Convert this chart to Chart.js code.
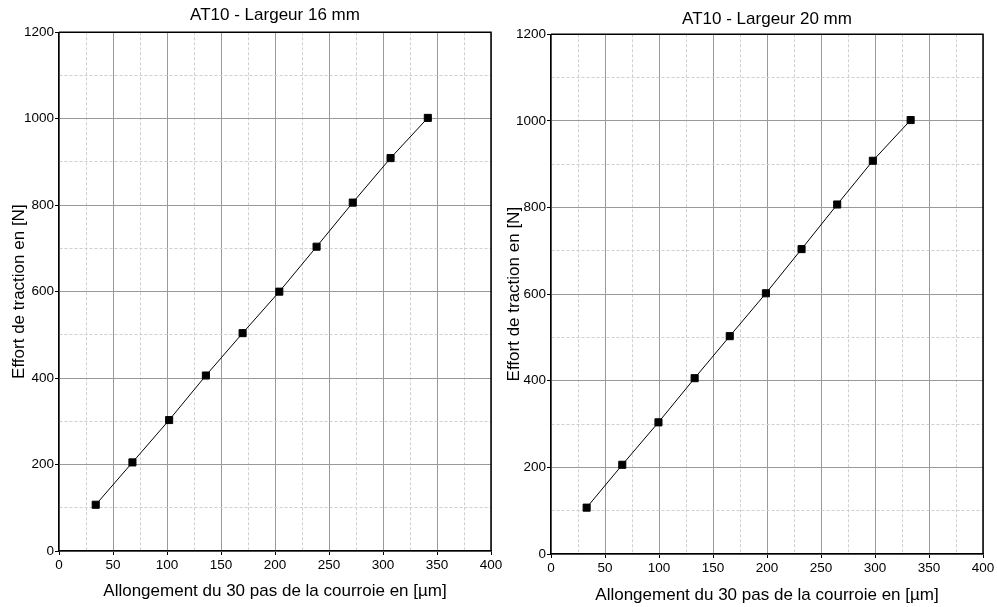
<!DOCTYPE html>
<html>
<head>
<meta charset="utf-8">
<script src="https://cdn.jsdelivr.net/npm/chart.js@4"></script>
<style>
  body { margin: 0; background: #fff; }
  #c1 { position: absolute; left: 0; top: 0; }
  #c2 { position: absolute; left: 497px; top: 0; }
</style>
</head>
<body>
<canvas id="c1" width="511" height="607"></canvas>
<canvas id="c2" width="500" height="607"></canvas>
<script>
// valeurs
const xLeft = [34, 68, 102, 136, 170, 204, 238.5, 272, 307, 341.5];
const yLeft = [107, 205, 303, 406, 504, 600, 704, 806, 909, 1002];
const xRight = [33, 66, 99.5, 133, 165.5, 199, 232, 265, 298, 333];
const yRight = [107, 206, 304, 406, 503, 602, 704, 807, 908, 1002];
const xTickLabels = [0, 50, 100, 150, 200, 250, 300, 350, 400];
const yTickLabels = [0, 200, 400, 600, 800, 1000, 1200];

const xTitle = 'Allongement du 30 pas de la courroie en [µm]';
const yTitle = 'Effort de traction en [N]';

Chart.defaults.font.family = '"Liberation Sans", Arial, sans-serif';
Chart.defaults.color = '#000';

const isMinor = (ctx, labels) => !(ctx.tick && labels.includes(ctx.tick.value));

const frame = {
  id: 'frame',
  beforeDatasetsDraw(chart) {
    const {ctx, chartArea: a} = chart;
    ctx.save();
    ctx.strokeStyle = '#000';
    ctx.lineWidth = 1.5;
    ctx.beginPath();
    ctx.moveTo(a.left, a.top);
    ctx.lineTo(a.right, a.top);
    ctx.lineTo(a.right, a.bottom);
    ctx.stroke();
    ctx.restore();
  }
};

function makeChart(id, xs, ys, title, opt) {
  const pts = xs.map((x, i) => ({x: x, y: ys[i]}));
  return new Chart(document.getElementById(id), {
    type: 'scatter',
    data: {
      datasets: [{
        data: pts,
        showLine: true,
        borderColor: '#000',
        borderWidth: 1,
        backgroundColor: '#000',
        pointStyle: 'rect',
        pointRadius: 5,
        pointBorderWidth: 1,
        pointBorderColor: '#000'
      }]
    },
    plugins: [frame],
    options: {
      responsive: false,
      animation: false,
      layout: { padding: { left: 0, right: opt.padRight, top: 0, bottom: 0 } },
      plugins: {
        legend: { display: false },
        tooltip: { enabled: false },
        title: {
          display: true,
          text: title,
          fullSize: false,
          color: '#000',
          font: { size: 17, weight: 'normal' },
          padding: { top: opt.titleTop, bottom: opt.titleBottom }
        }
      },
      scales: {
        x: {
          type: 'linear',
          min: 0, max: 400,
          afterFit: s => { s.height = opt.xHeight; },
          ticks: {
            stepSize: 25,
            autoSkip: false,
            maxRotation: 0,
            padding: 2,
            font: { size: 13.5 },
            callback: v => xTickLabels.includes(v) ? v : ''
          },
          grid: {
            color: ctx => isMinor(ctx, xTickLabels) ? '#cfcfcf' : '#999',
            tickColor: ctx => isMinor(ctx, xTickLabels) ? 'rgba(0,0,0,0)' : '#000',
            tickLength: 4,
            lineWidth: 1
          },
          border: {
            color: '#000',
            width: 1.5,
            dash: ctx => (ctx.tick && isMinor(ctx, xTickLabels)) ? [3, 2] : []
          },
          title: {
            display: true,
            text: xTitle,
            font: { size: 17 },
            padding: { top: 0, bottom: opt.xTitleBottom }
          }
        },
        y: {
          type: 'linear',
          min: 0, max: 1200,
          afterFit: s => { s.width = opt.yWidth; },
          ticks: {
            stepSize: 100,
            autoSkip: false,
            padding: 1,
            font: { size: 13.5 },
            callback: v => yTickLabels.includes(v) ? v : ''
          },
          grid: {
            color: ctx => isMinor(ctx, yTickLabels) ? '#cfcfcf' : '#999',
            tickColor: ctx => isMinor(ctx, yTickLabels) ? 'rgba(0,0,0,0)' : '#000',
            tickLength: 4,
            lineWidth: 1
          },
          border: {
            color: '#000',
            width: 1.5,
            dash: ctx => (ctx.tick && isMinor(ctx, yTickLabels)) ? [3, 2] : []
          },
          title: {
            display: true,
            text: yTitle,
            font: { size: 17 },
            padding: { top: opt.yTitleTop, bottom: 0 }
          }
        }
      }
    }
  });
}

makeChart('c1', xLeft, yLeft, 'AT10 - Largeur 16 mm', {
  padRight: 20, titleTop: 5.3, titleBottom: 6.6,
  xHeight: 56, xTitleBottom: 5.4, yWidth: 59, yTitleTop: 9.3
});

makeChart('c2', xRight, yRight, 'AT10 - Largeur 20 mm', {
  padRight: 14, titleTop: 9, titleBottom: 4.9,
  xHeight: 53, xTitleBottom: 1, yWidth: 54, yTitleTop: 6.8
});
</script>
</body>
</html>
